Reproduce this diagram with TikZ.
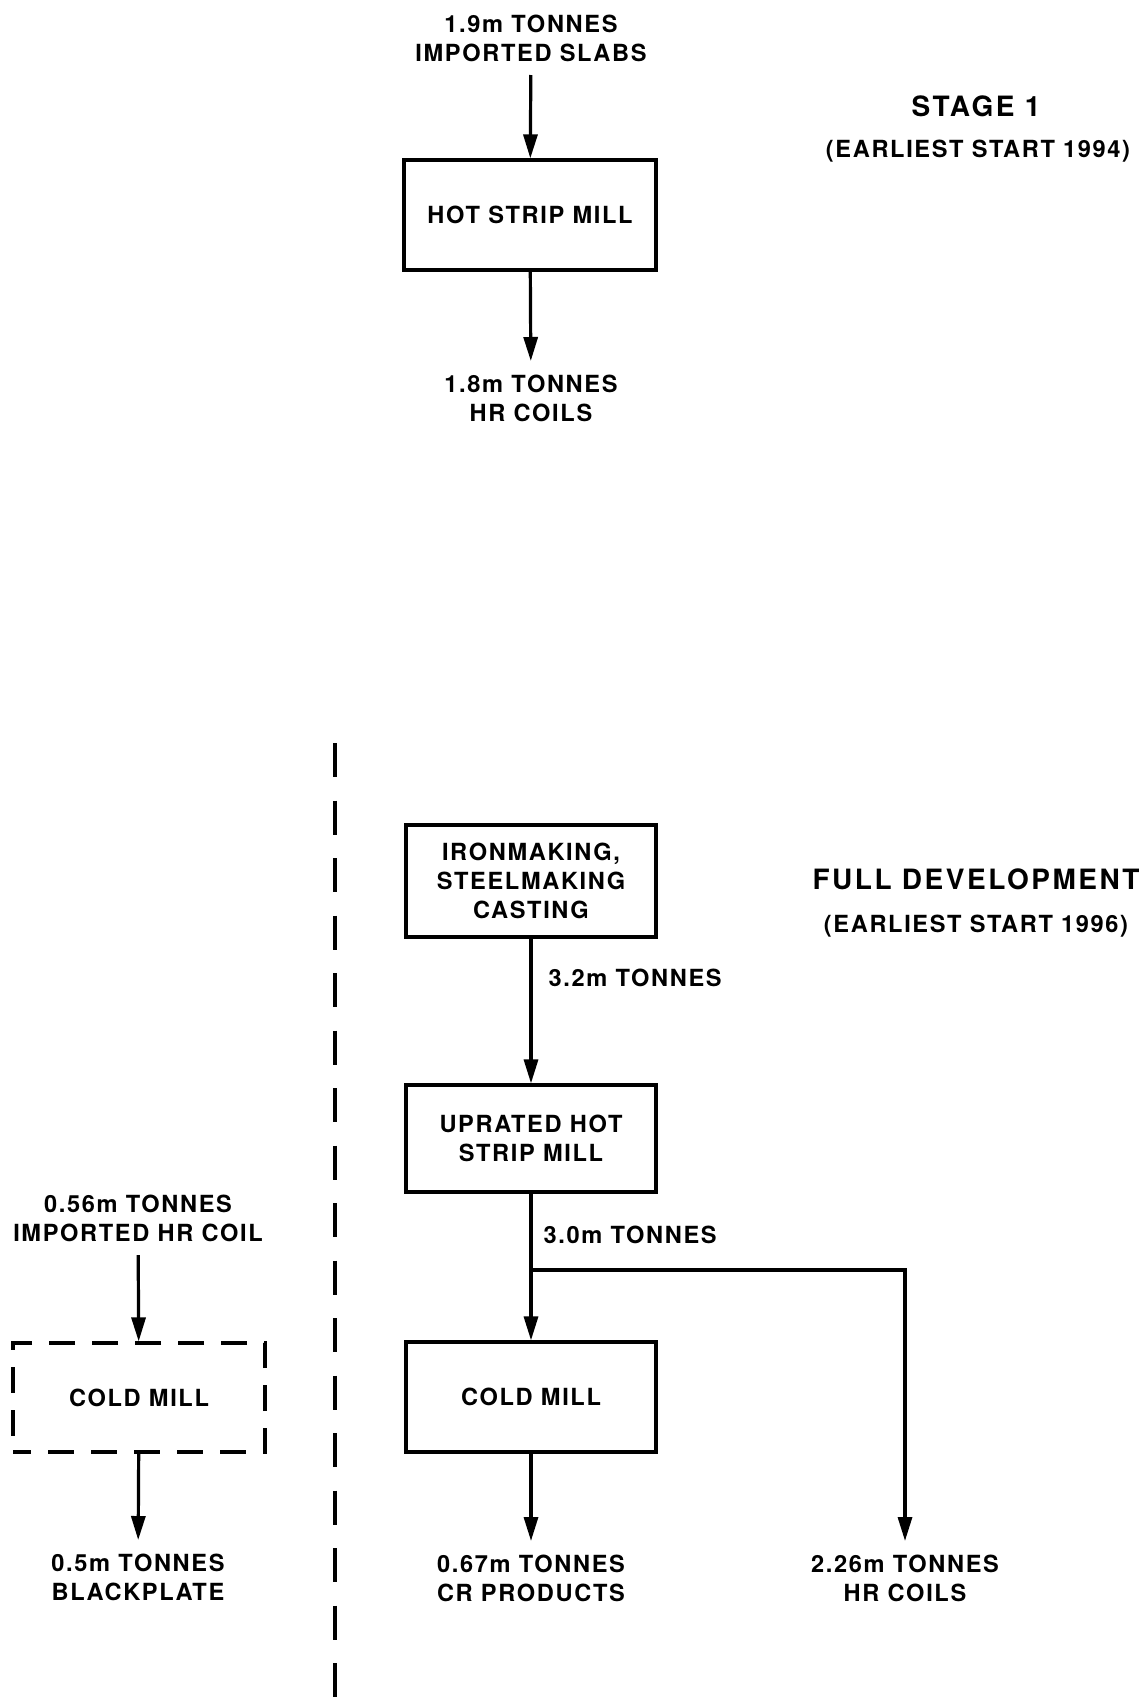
\documentclass[tikz,border=0pt]{standalone}
\usepackage{fontspec}
\usetikzlibrary{arrows.meta}
\newfontfamily\labfont{TeX Gyre Heros}[LetterSpace=7]
\newfontfamily\titlefont{TeX Gyre Heros}[LetterSpace=9]
\begin{document}
\begin{tikzpicture}[x=0.5pt,y=-0.5pt,
  line width=1.6pt,
  txt/.style={font=\labfont\bfseries\fontsize{11.8pt}{14.5pt}\selectfont, align=center},
  lab/.style={txt, inner sep=6pt},
  ttl/.style={font=\titlefont\bfseries\fontsize{14pt}{16pt}\selectfont, inner sep=0pt},
  sub/.style={txt, inner sep=0pt},
  stepbox/.style={txt, draw, inner sep=0pt, minimum width=125pt, minimum height=55pt},
  optbox/.style={stepbox, dash pattern=on 13pt off 8.5pt, dash phase=4pt},
  flow/.style={-{Triangle[length=12pt,width=7pt]}},
  divider/.style={dash pattern=on 17pt off 11.75pt}
]
\useasboundingbox (0,0) rectangle (1145,1708);

% ---------- Stage 1 ----------
\node[lab, anchor=south] (slabs) at (531,75) {1.9m TONNES\\IMPORTED SLABS};
\node[stepbox, minimum width=126pt] (hsm) at (530,215) {HOT STRIP MILL};
\node[lab, anchor=north] (hrc1) at (531,361) {1.8m TONNES\\HR COILS};
\draw[flow] (slabs) -- (hsm);
\draw[flow] (hsm) -- (hrc1);

\node[ttl] (stage) at (976,106) {STAGE 1};
\node[sub] (stagedate) at (978,151) {(EARLIEST START 1994)};

% ---------- Full development ----------
\node[stepbox, minimum height=56pt] (iron) at (531,881) {IRONMAKING,\\STEELMAKING\\CASTING};
\node[stepbox, minimum height=53.5pt] (upr) at (531,1138.5) {UPRATED HOT\\STRIP MILL};
\node[stepbox] (cold) at (531,1397) {COLD MILL};
\node[lab, anchor=north] (crp) at (531,1541) {0.67m TONNES\\CR PRODUCTS};
\node[lab, anchor=north] (hrc2) at (905,1541) {2.26m TONNES\\HR COILS};
\coordinate (split) at (531,1270);
\coordinate (splitr) at (905,1270);

\draw[flow] (iron) -- node[sub, anchor=west, xshift=8pt, pos=0.27] (t32) {3.2m TONNES} (upr);
\draw (upr) -- (split);
\node[sub, anchor=west] (t30) at (542,1235) {3.0m TONNES};
\draw[flow] (split) -- (cold);
\draw[flow] (split) -- (splitr) -- (hrc2);
\draw[flow] (cold) -- (crp);

\node[ttl] (full) at (976,879) {FULL DEVELOPMENT};
\node[sub] (fulldate) at (976,926) {(EARLIEST START 1996)};

% ---------- Optional cold mill ----------
\node[lab, anchor=south] (imp) at (138,1255) {0.56m TONNES\\IMPORTED HR COIL};
\node[optbox, minimum width=126pt, minimum height=54.5pt] (cold2) at (139,1397.5) {COLD MILL};
\node[lab, anchor=north] (black) at (138,1540) {0.5m TONNES\\BLACKPLATE};
\draw[flow] (imp) -- (cold2);
\draw[flow] (cold2) -- (black);

% ---------- Divider ----------
\coordinate (divtop) at (335,743);
\coordinate (divbot) at (335,1708);
\draw[divider, line width=2pt] (divtop) -- (divbot);
\end{tikzpicture}
\end{document}
